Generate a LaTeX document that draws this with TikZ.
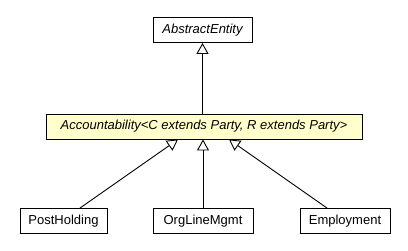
\documentclass[tikz,border=0pt]{standalone}
\usepackage{fontspec}
\setmainfont{Liberation Sans}
\usepackage{tikz}
\usetikzlibrary{arrows.meta,positioning,calc}
\definecolor{absfill}{HTML}{FFFFCC}
\tikzstyle{cls}=[draw=black, rectangle, minimum height=25pt, inner sep=0pt, font=\fontsize{13}{15}\selectfont]
\tikzstyle{abs}=[cls, fill=absfill, font=\fontsize{13}{15}\selectfont\itshape]
\tikzstyle{ext}=[-{Triangle[open,length=11pt,width=12pt]}, line width=0.9pt]

\begin{document}
\begin{tikzpicture}[x=1pt, y=-1pt, line width=0.9pt]
      \useasboundingbox (0,0) rectangle (408,251);
      %
      \node at (202.5,30) [cls, minimum width=99pt, font=\fontsize{13}{15}\selectfont\itshape] (entity) {AbstractEntity};
      \node at (204,126.5) [abs, minimum width=316pt] (acc) {Accountability<C extends Party, R extends Party>};
      %
      \node at (63.5,221) [cls, minimum width=87pt] (post) {PostHolding};
      \node at (203,221) [cls, minimum width=100pt] (org) {OrgLineMgmt};
      \node at (345,221) [cls, minimum width=90pt] (emp) {Employment};
      %
      \draw[ext] (acc.north -| entity.south) -- (entity.south);
      \draw[ext] ([xshift=16.5pt]post.north) -- ([xshift=-26pt]acc.south);
      \draw[ext] (org.north) -- (org.north |- acc.south);
      \draw[ext] ([xshift=-18pt]emp.north) -- ([xshift=25pt]acc.south);
\end{tikzpicture}
\end{document}
